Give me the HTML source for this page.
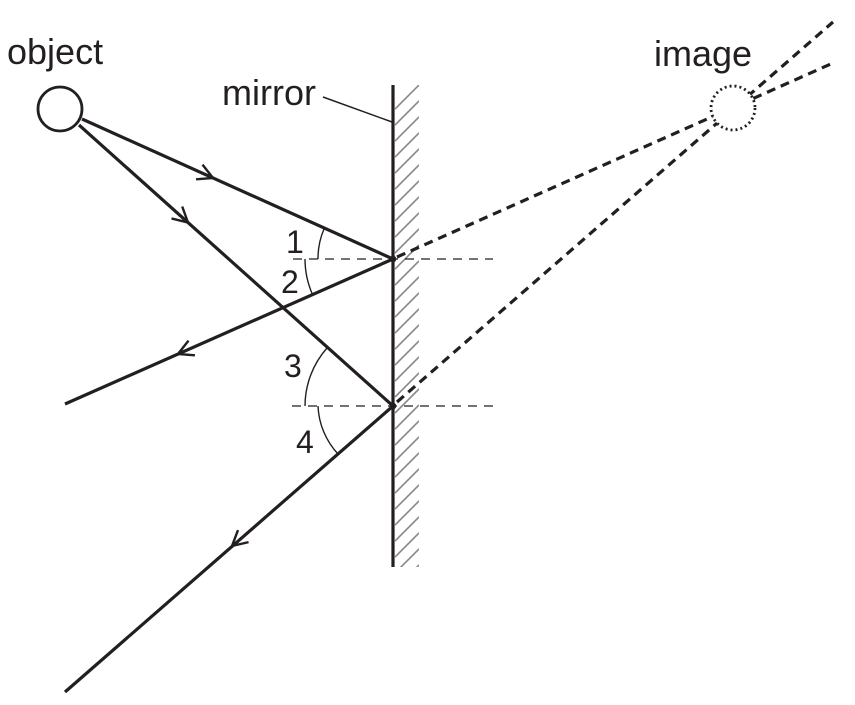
<!DOCTYPE html>
<html><head><meta charset="utf-8"><style>html,body{margin:0;padding:0;background:#fff}svg{display:block}</style></head>
<body>
<svg width="855" height="705" viewBox="0 0 855 705" xmlns="http://www.w3.org/2000/svg" font-family="Liberation Sans, sans-serif">
<defs>
<marker id="a" markerUnits="userSpaceOnUse" markerWidth="30" markerHeight="30" refX="0" refY="0" viewBox="-15 -15 30 30" orient="auto" overflow="visible">
<path d="M-15,-8 L0,0 L-15,8" fill="none" stroke="#231f20" stroke-width="2.4"/>
</marker>
<clipPath id="hc"><rect x="395" y="85" width="24" height="482"/></clipPath>
</defs>
<g clip-path="url(#hc)" stroke="#888" stroke-width="1.6">
<g id="h">
</g>
</g>
<script>
var g=document.getElementById('h');
for(var y=85;y<600;y+=16){var l=document.createElementNS('http://www.w3.org/2000/svg','line');l.setAttribute('x1',395);l.setAttribute('y1',y+24);l.setAttribute('x2',419);l.setAttribute('y2',y);g.appendChild(l);}
</script>
<g stroke="#231f20" fill="none">
<line x1="393" y1="85" x2="393" y2="567" stroke-width="3.2"/>
<line x1="323" y1="97" x2="392" y2="122" stroke-width="1.5"/>
<circle cx="60" cy="109" r="22" stroke-width="2.8" fill="#fff"/>
<g stroke-width="3.2">
<line x1="82" y1="119" x2="393" y2="259"/>
<line x1="79" y1="125" x2="393" y2="406"/>
<line x1="393" y1="259" x2="65" y2="404"/>
<line x1="393" y1="406" x2="65" y2="692"/>
</g>
<g stroke-width="0.1">
<line x1="203" y1="173.6" x2="213" y2="178" marker-end="url(#a)"/>
<line x1="180" y1="215.3" x2="188" y2="222.5" marker-end="url(#a)"/>
<line x1="188" y1="349.6" x2="178" y2="354" marker-end="url(#a)"/>
<line x1="240" y1="539" x2="232" y2="546" marker-end="url(#a)"/>
</g>
<g stroke-width="3.2" stroke-dasharray="9,6">
<line x1="397" y1="257" x2="833" y2="63"/>
<line x1="397" y1="402" x2="833" y2="22"/>
</g>
<circle cx="733" cy="108" r="22" stroke-width="2.8" stroke-dasharray="2,3" fill="#fff"/>
<g stroke-width="1.3" stroke-dasharray="9,7">
<line x1="293" y1="259" x2="493" y2="259"/>
<line x1="292" y1="406" x2="493" y2="406"/>
</g>
<g stroke-width="1.4">
<path d="M324,229 A75,75 0 0 0 318,259"/>
<path d="M305,259 A88,88 0 0 0 312.5,294.5"/>
<path d="M327,348 A88,88 0 0 0 305,406"/>
<path d="M318,406 A75,75 0 0 0 338,454"/>
</g>
<circle cx="393" cy="259" r="2.8" fill="#231f20"/>
<circle cx="393" cy="406" r="2.8" fill="#231f20"/>
</g>
<g fill="#231f20" font-size="36">
<text x="7" y="64">object</text>
<text x="222" y="105">mirror</text>
<text x="654" y="66">image</text>
<text x="286" y="253" font-size="32">1</text>
<text x="281" y="293" font-size="32">2</text>
<text x="284" y="377" font-size="32">3</text>
<text x="296" y="453" font-size="32">4</text>
</g>
</svg>
</body></html>
